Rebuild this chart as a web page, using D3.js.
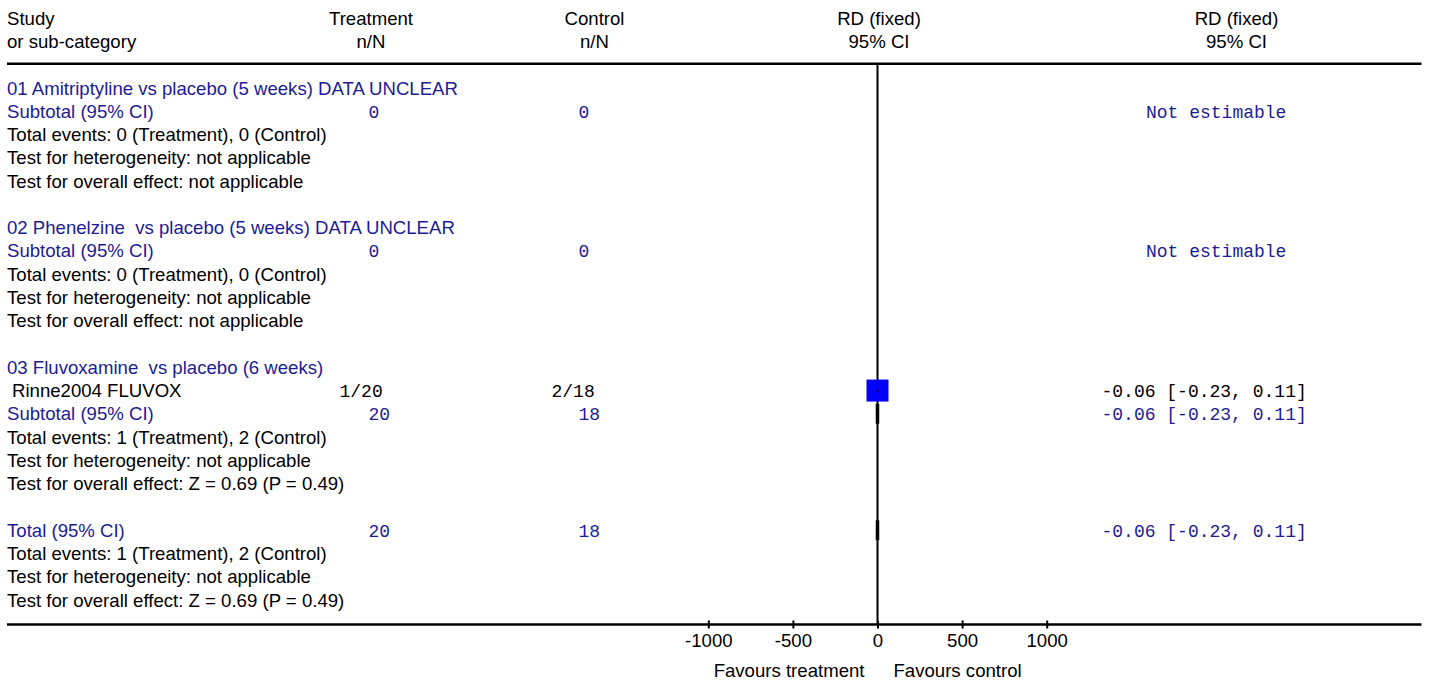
<!DOCTYPE html>
<html><head><meta charset="utf-8">
<script src="https://cdn.jsdelivr.net/npm/d3@7"></script>
<style>body{margin:0;background:#fff}svg{display:block}text{white-space:pre}</style>
</head><body><svg id="chart" width="1430" height="683"></svg>
<script>
// ---------- data ----------
const headerTop = ["Study", "Treatment", "Control", "RD (fixed)", "RD (fixed)"];
const headerBottom = ["or sub-category", "n/N", "n/N", "95% CI", "95% CI"];

const groupTitles = [
  "01 Amitriptyline vs placebo (5 weeks) DATA UNCLEAR",
  "02 Phenelzine  vs placebo (5 weeks) DATA UNCLEAR",
  "03 Fluvoxamine  vs placebo (6 weeks)"
];

const studyNames = ["Rinne2004 FLUVOX"];
const studyGroup = [2];
const studyTreatEvents = [1];
const studyTreatTotal = [20];
const studyCtrlEvents = [2];
const studyCtrlTotal = [18];
const studyRD = [-0.06];
const studyLo = [-0.23];
const studyHi = [0.11];
const studyWeight = [100];

const subtotalTreat = [0, 0, 20];
const subtotalCtrl = [0, 0, 18];
const subtotalRD = [null, null, -0.06];
const subtotalLo = [null, null, -0.23];
const subtotalHi = [null, null, 0.11];
const subtotalEvents = [
  "Total events: 0 (Treatment), 0 (Control)",
  "Total events: 0 (Treatment), 0 (Control)",
  "Total events: 1 (Treatment), 2 (Control)"
];
const subtotalHet = [
  "Test for heterogeneity: not applicable",
  "Test for heterogeneity: not applicable",
  "Test for heterogeneity: not applicable"
];
const subtotalEffect = [
  "Test for overall effect: not applicable",
  "Test for overall effect: not applicable",
  "Test for overall effect: Z = 0.69 (P = 0.49)"
];

const totalTreat = 20;
const totalCtrl = 18;
const totalRD = -0.06;
const totalLo = -0.23;
const totalHi = 0.11;
const totalLines = [
  "Total events: 1 (Treatment), 2 (Control)",
  "Test for heterogeneity: not applicable",
  "Test for overall effect: Z = 0.69 (P = 0.49)"
];

const axisTicks = [-1000, -500, 0, 500, 1000];
const favoursLabels = ["Favours treatment", "Favours control"];

// ---------- layout ----------
const BLUE = "#1c1c95";
const SANS = "'Liberation Sans', Arial, sans-serif";
const MONO = "'Liberation Mono', 'Courier New', monospace";
const FS = 18.6;

const svg = d3.select("#chart");
const x = d3.scaleLinear().domain([-1000, 1000]).range([708.3, 1046.7]);
const rowBase = d3.scaleLinear().domain([0, 22]).range([94.5, 606.5]);
const rowCenter = r => rowBase(r) - 6.5;
const fmt = v => v.toFixed(2);
const ciText = (m, l, h) => `${fmt(m)} [${fmt(l)}, ${fmt(h)}]`;
const wScale = d3.scaleSqrt().domain([0, 100]).range([0, 22]);

// build rows
const rows = [];
let r = 0;
groupTitles.forEach((g, gi) => {
  rows.push({row: r++, type: "group", label: g});
  studyNames.forEach((s, si) => {
    if (studyGroup[si] === gi) rows.push({row: r++, type: "study", si});
  });
  rows.push({row: r++, type: "subtotal", gi});
  rows.push({row: r++, type: "text", label: subtotalEvents[gi]});
  rows.push({row: r++, type: "text", label: subtotalHet[gi]});
  rows.push({row: r++, type: "text", label: subtotalEffect[gi]});
  r++; // blank
});
rows.push({row: r++, type: "total"});
totalLines.forEach(t => rows.push({row: r++, type: "text", label: t}));

// header
const hx = [{x: 7, a: "start"}, {x: 371, a: "middle"}, {x: 594.5, a: "middle"}, {x: 879, a: "middle"}, {x: 1236.5, a: "middle"}];
headerTop.forEach((t, i) => svg.append("text").attr("x", hx[i].x).attr("y", 24.5).attr("text-anchor", hx[i].a)
  .attr("font-family", SANS).attr("font-size", FS).attr("fill", "#000").text(t));
headerBottom.forEach((t, i) => svg.append("text").attr("x", hx[i].x).attr("y", 47.5).attr("text-anchor", hx[i].a)
  .attr("font-family", SANS).attr("font-size", FS).attr("fill", "#000").text(t));

const yTop = 63.8, yAxis = 624.5;
svg.append("line").attr("x1", 7).attr("x2", 1421.5).attr("y1", yTop).attr("y2", yTop).attr("stroke", "#000").attr("stroke-width", 2.5);

// zero line
svg.append("line").attr("x1", x(0)).attr("x2", x(0)).attr("y1", yTop).attr("y2", yAxis).attr("stroke", "#000").attr("stroke-width", 2);

// axis
svg.append("line").attr("x1", 7).attr("x2", 1421.5).attr("y1", yAxis).attr("y2", yAxis).attr("stroke", "#000").attr("stroke-width", 2.5);
const ax = svg.append("g").attr("transform", `translate(0,${yAxis})`)
  .call(d3.axisBottom(x).tickValues(axisTicks).tickFormat(d => String(d)).tickSizeInner(4).tickSizeOuter(0).tickPadding(6));
ax.select(".domain").remove();
ax.selectAll(".tick line").attr("y1", -4).attr("y2", 4).attr("stroke", "#000").attr("stroke-width", 2);
ax.selectAll(".tick text").attr("font-family", SANS).attr("font-size", FS).attr("fill", "#000").attr("dy", null).attr("y", 22);
svg.append("text").attr("x", x(0) - 13).attr("y", 677).attr("text-anchor", "end").attr("font-family", SANS).attr("font-size", FS).text(favoursLabels[0]);
svg.append("text").attr("x", x(0) + 16).attr("y", 677).attr("text-anchor", "start").attr("font-family", SANS).attr("font-size", FS).text(favoursLabels[1]);

const sans = (xx, row, t, col) => svg.append("text").attr("x", xx).attr("y", rowBase(row)).attr("font-family", SANS)
  .attr("font-size", FS).attr("fill", col).text(t);
const mono = (xx, row, t, col, anchor) => svg.append("text").attr("x", xx).attr("y", rowBase(row)).attr("font-family", MONO)
  .attr("font-size", 18).attr("fill", col).attr("text-anchor", anchor || "start").text(t);

const diamond = (row, m, l, h) => {
  const cy = rowCenter(row);
  svg.append("polygon")
    .attr("points", [[x(l), cy], [x(m), cy - 10], [x(h), cy], [x(m), cy + 10]].map(p => p.join(",")).join(" "))
    .attr("fill", "#000").attr("stroke", "#000").attr("stroke-width", 3.5);
};

rows.forEach(d => {
  if (d.type === "group") sans(7, d.row, d.label, BLUE);
  else if (d.type === "text") sans(7, d.row, d.label, "#000");
  else if (d.type === "study") {
    const i = d.si;
    sans(12, d.row, studyNames[i], "#000");
    mono(339.5, d.row, `${studyTreatEvents[i]}/${studyTreatTotal[i]}`, "#000");
    mono(551.5, d.row, `${studyCtrlEvents[i]}/${studyCtrlTotal[i]}`, "#000");
    mono(1101.5, d.row, ciText(studyRD[i], studyLo[i], studyHi[i]), "#000");
    const cy = rowCenter(d.row), s = wScale(studyWeight[i]);
    svg.append("line").attr("x1", x(studyLo[i])).attr("x2", x(studyHi[i])).attr("y1", cy).attr("y2", cy).attr("stroke", "#000").attr("stroke-width", 1.5);
    svg.append("rect").attr("x", x(studyRD[i]) - s / 2).attr("y", cy - s / 2).attr("width", s).attr("height", s).attr("fill", "#0000ff");
    svg.append("rect").attr("x", x(studyRD[i]) - 1).attr("y", cy - 1).attr("width", 2).attr("height", 2).attr("fill", "#000");
  } else if (d.type === "subtotal") {
    const gi = d.gi;
    sans(7, d.row, "Subtotal (95% CI)", BLUE);
    mono(368.5, d.row, String(subtotalTreat[gi]), BLUE);
    mono(578.5, d.row, String(subtotalCtrl[gi]), BLUE);
    if (subtotalRD[gi] === null) {
      mono(1146, d.row, "Not estimable", BLUE);
    } else {
      mono(1101.5, d.row, ciText(subtotalRD[gi], subtotalLo[gi], subtotalHi[gi]), BLUE);
      diamond(d.row, subtotalRD[gi], subtotalLo[gi], subtotalHi[gi]);
    }
  } else if (d.type === "total") {
    sans(7, d.row, "Total (95% CI)", BLUE);
    mono(368.5, d.row, String(totalTreat), BLUE);
    mono(578.5, d.row, String(totalCtrl), BLUE);
    mono(1101.5, d.row, ciText(totalRD, totalLo, totalHi), BLUE);
    diamond(d.row, totalRD, totalLo, totalHi);
  }
});
</script>
</body></html>
